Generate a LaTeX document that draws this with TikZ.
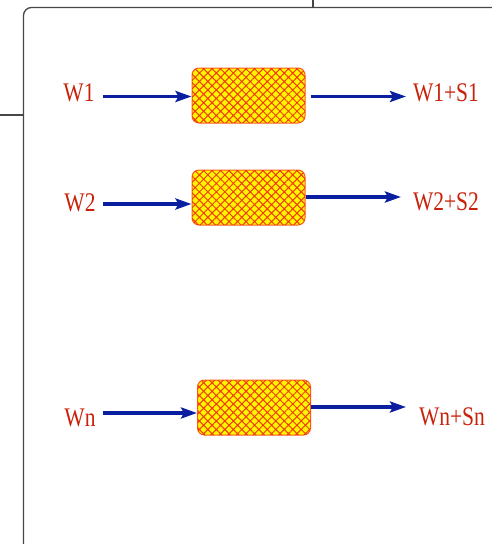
\documentclass[tikz,border=0pt]{standalone}
\usepackage{fontspec}
\setmainfont{Liberation Serif}
\usetikzlibrary{arrows.meta,patterns.meta}
\definecolor{txtred}{RGB}{200,35,10}
\definecolor{arrblue}{RGB}{10,30,160}
\definecolor{boxyellow}{RGB}{255,245,0}
\definecolor{hatchred}{RGB}{240,60,10}
\definecolor{boxedge}{RGB}{255,90,30}
\definecolor{framegray}{RGB}{70,70,70}
\tikzset{
  lbl/.style={text=txtred, inner sep=0pt, font=\fontsize{21.5pt}{24pt}\selectfont},
  procbox/.style={minimum width=113pt, minimum height=55pt, inner sep=0pt,
    rounded corners=7pt, draw=boxedge, line width=1pt, fill=boxyellow,
    postaction={pattern={Hatch[angle=45,distance=6pt,line width=1pt]}, pattern color=hatchred}},
  arr/.style={draw=arrblue, line width=3.5pt, -{Stealth[length=16pt,width=11pt,inset=3pt]}},
  frame/.style={draw=framegray, line width=1.3pt}
}
\newcommand{\tall}[1]{\scalebox{1}[1.25]{#1}}
\begin{document}
\begin{tikzpicture}[x=1pt,y=-1pt]
\useasboundingbox (0,0) rectangle (492,544);
\clip (0,0) rectangle (492,544);
% frame
\draw[frame, rounded corners=8pt] (23.5,560) -- (23.5,7.5) -- (520,7.5);
\coordinate (tt) at (313,0);
\coordinate (lt) at (0,115);
\draw[frame] (tt) -- (tt |- 0,7.5);
\draw[frame] (lt) -- (23.5,115);
% boxes
\node[procbox] (b1) at (248.5,95.5) {};
\node[procbox] (b2) at (248.5,197.5) {};
\node[procbox] (b3) at (254,407.5) {};
% labels
\node[lbl] (w1) at (79,93) {\tall{W1}};
\node[lbl] (w2) at (80,202.5) {\tall{W2}};
\node[lbl] (wn) at (80,418) {\tall{Wn}};
\node[lbl] (s1) at (446,93) {\tall{W1+S1}};
\node[lbl] (s2) at (446,202) {\tall{W2+S2}};
\node[lbl] (sn) at (452,417) {\tall{Wn+Sn}};
% input arrows
\coordinate (i1) at (103,96.5);
\coordinate (i2) at (103,204);
\coordinate (i3) at (103,413);
\draw[arr] (i1) -- (i1 -| b1.west);
\draw[arr] (i2) -- (i2 -| b2.west);
\draw[arr] (i3) -- (i3 -| b3.west);
% output arrows
\coordinate (o1) at (406,96.5);
\coordinate (o2) at (401,197);
\coordinate (o3) at (406,407);
\path ([xshift=5pt]b1.east) coordinate (b1e);
\draw[arr] (b1e |- o1) -- (o1);
\draw[arr] (b2.east |- o2) -- (o2);
\draw[arr] (b3.east |- o3) -- (o3);
\end{tikzpicture}
\end{document}
